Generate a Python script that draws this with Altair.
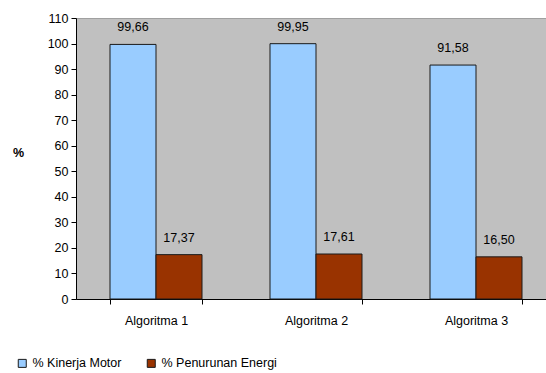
import altair as alt
import pandas as pd

# Chart values
algoritma = ["Algoritma 1", "Algoritma 2", "Algoritma 3"]
kinerja_motor = [99.66, 99.95, 91.58]
penurunan_energi = [17.37, 17.61, 16.50]
seri = ["% Kinerja Motor", "% Penurunan Energi"]
warna = ["#99ccff", "#993300"]
y_ticks = list(range(0, 111, 10))

rows = []
for i, a in enumerate(algoritma):
    for s, vals in zip(seri, [kinerja_motor, penurunan_energi]):
        v = vals[i]
        rows.append({"algoritma": a, "seri": s, "nilai": v,
                     "label": f"{v:.2f}".replace(".", ",")})
df = pd.DataFrame(rows)

FONT = "Liberation Sans"
FS = 12.5

x_enc = alt.X(
    "algoritma:N", sort=algoritma, title=None,
    scale=alt.Scale(range=[0, 480], paddingInner=0.425, paddingOuter=0.2125),
    axis=alt.Axis(labelAngle=0, tickBand="extent", tickSize=5, labelPadding=10,
                  domainColor="black", tickColor="black", labelColor="black",
                  labelFont=FONT, labelFontSize=FS, grid=False),
)
xoff_enc = alt.XOffset("seri:N", sort=seri)
y_enc = alt.Y(
    "nilai:Q", title="%",
    scale=alt.Scale(domain=[0, 110], nice=False),
    axis=alt.Axis(values=y_ticks, tickSize=5, labelPadding=3, grid=False,
                  domainColor="black", tickColor="black", labelColor="black",
                  labelFont=FONT, labelFontSize=FS,
                  titleAngle=0, titleX=-58, titleY=134, titleAlign="center",
                  titleBaseline="middle", titleFont=FONT, titleFontSize=FS,
                  titleFontWeight="bold", titleColor="black"),
)

bars = alt.Chart(df).mark_bar(stroke="#1a1a1a", strokeWidth=1).encode(
    x=x_enc,
    xOffset=xoff_enc,
    y=y_enc,
    color=alt.Color(
        "seri:N",
        scale=alt.Scale(domain=seri, range=warna),
        legend=alt.Legend(orient="none", legendX=-60, legendY=339,
                          direction="horizontal", title=None,
                          symbolType="square", symbolSize=64,
                          symbolStrokeColor="#1a1a1a", symbolStrokeWidth=1,
                          labelFont=FONT, labelFontSize=FS, labelColor="black",
                          labelOffset=4, columnPadding=23),
    ),
)

labels = alt.Chart(df).mark_text(
    baseline="bottom", dy=-10, font=FONT, fontSize=FS, color="black"
).encode(
    x=x_enc,
    xOffset=xoff_enc,
    y=y_enc,
    text="label:N",
)

chart = (
    alt.layer(bars, labels)
    .properties(
        width=470, height=281,
        background="white",
        autosize=alt.AutoSizeParams(type="none"),
        padding={"left": 76, "top": 18, "right": 0, "bottom": 74},
    )
    .configure_view(fill="#c0c0c0", stroke="#a0a0a0", strokeWidth=1)
)

chart.save("out.html", embed_options={"renderer": "svg", "actions": False})
